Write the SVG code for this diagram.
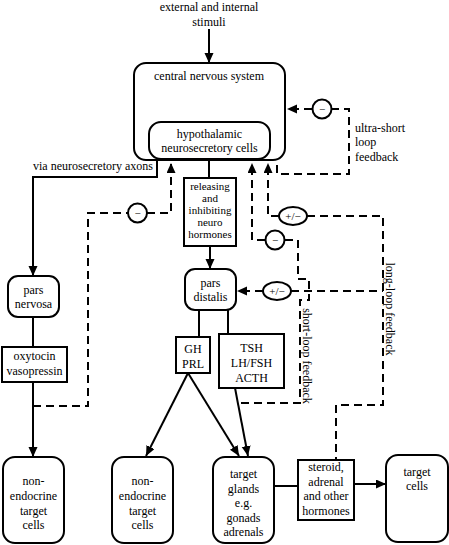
<svg xmlns="http://www.w3.org/2000/svg" width="449" height="545" viewBox="0 0 449 545">
<defs>
<marker id="ah" markerUnits="userSpaceOnUse" markerWidth="11" markerHeight="10" refX="10" refY="4.5" orient="auto">
<path d="M0,0 L10,4.5 L0,9 z" fill="#000"/>
</marker>
</defs>
<style>
text{font-family:'Liberation Serif','Times New Roman','DejaVu Serif',serif;font-size:12px;fill:#000;text-anchor:middle}
.l{text-anchor:start}
.box{fill:#fff;stroke:#000;stroke-width:2}
.c{fill:none;stroke:#000;stroke-width:2}
.d{fill:none;stroke:#000;stroke-width:2;stroke-dasharray:8,5}
.sign{fill:#fff;stroke:#000;stroke-width:2}
.s{font-size:11px}
.t{font-size:11px}
</style>
<rect width="449" height="545" fill="#fff"/>
<g id="connectors">
<line class="c" x1="209" y1="29" x2="209" y2="63" marker-end="url(#ah)"/>
<line class="c" x1="209" y1="87" x2="209" y2="122" marker-end="url(#ah)"/>
<path class="c" d="M157,159 V177 H33 V276" marker-end="url(#ah)"/>
<line class="c" x1="33" y1="317" x2="33" y2="347"/>
<line class="c" x1="33" y1="382" x2="33" y2="457" marker-end="url(#ah)"/>
<line class="c" x1="209" y1="159" x2="209" y2="178"/>
<line class="c" x1="210" y1="246" x2="210" y2="269" marker-end="url(#ah)"/>
<line class="c" x1="199" y1="310" x2="199" y2="337"/>
<line class="c" x1="228" y1="310" x2="228" y2="334"/>
<line class="c" x1="188" y1="373" x2="146" y2="456" marker-end="url(#ah)"/>
<line class="c" x1="188" y1="373" x2="239" y2="456" marker-end="url(#ah)"/>
<line class="c" x1="235" y1="388" x2="248" y2="456" marker-end="url(#ah)"/>
<line class="c" x1="274" y1="486" x2="298" y2="486"/>
<line class="c" x1="354" y1="484" x2="386" y2="484" marker-end="url(#ah)"/>
<path class="d" d="M331,109 H349 V174 H277 V162"/>
<line class="d" x1="312" y1="109" x2="287" y2="109" stroke-dasharray="5,4" marker-end="url(#ah)"/>
<path class="d" d="M33,406 H88 V213 H128"/>
<path class="d" d="M147,213 H171 V163" marker-end="url(#ah)"/>
<path class="d" d="M307,216 H383 V405 H336 V460"/>
<path class="d" d="M279,216 H268 V163" marker-end="url(#ah)"/>
<path class="d" d="M291,291 H383"/>
<line class="d" x1="263" y1="291" x2="237" y2="291" stroke-dasharray="5,4" marker-end="url(#ah)"/>
<path class="d" d="M241,403 H300 V300 H309 V279 H298 V240 H285"/>
<path class="d" d="M265,240 H252 V163" marker-end="url(#ah)"/>
</g>
<g id="signs">
<circle class="sign" cx="322" cy="109" r="9.5"/><text class="s" x="322" y="113" fill="#555">−</text>
<circle class="sign" cx="137.5" cy="213" r="9.5"/><text class="s" x="137.5" y="217">−</text>
<circle class="sign" cx="275" cy="240" r="9.5"/><text class="s" x="275" y="244">−</text>
<ellipse class="sign" cx="293" cy="216" rx="14" ry="9"/><text class="s" x="293" y="220">+/−</text>
<ellipse class="sign" cx="277" cy="291" rx="14" ry="9"/><text class="s" x="277" y="295">+/−</text>
</g>
<g id="stimuli"><text x="209" y="11">external and internal</text><text x="209" y="26">stimuli</text></g>
<g id="cns"><rect class="box" x="134" y="63" width="151" height="97" rx="12"/><text x="209" y="80">central nervous system</text></g>
<g id="hypothalamic"><rect class="box" x="149" y="122" width="121" height="37" rx="12"/><text x="209.5" y="138">hypothalamic</text><text x="209.5" y="152">neurosecretory cells</text></g>
<g id="labels">
<text class="l" x="355" y="132">ultra-short</text><text class="l" x="355" y="146">loop</text><text class="l" x="355" y="161">feedback</text>
<text class="l" x="33" y="170">via neurosecretory axons</text>
<text transform="translate(303,356) rotate(90)">short-loop feedback</text>
<text transform="translate(386,309) rotate(90)">long-loop feedback</text>
</g>
<g id="releasing"><rect class="box" x="184" y="178" width="52" height="68"/><text class="t" x="210" y="190">releasing</text><text class="t" x="210" y="202">and</text><text class="t" x="210" y="214">inhibiting</text><text class="t" x="210" y="226">neuro</text><text class="t" x="210" y="238">hormones</text></g>
<g id="pars-nervosa"><rect class="box" x="8" y="276" width="51" height="41" rx="10"/><text x="33.5" y="294">pars</text><text x="33.5" y="308">nervosa</text></g>
<g id="oxytocin"><rect class="box" x="2" y="347" width="65" height="35"/><text x="34.5" y="360">oxytocin</text><text x="34.5" y="375">vasopressin</text></g>
<g id="pars-distalis"><rect class="box" x="185" y="269" width="51" height="41" rx="10"/><text x="210.5" y="287">pars</text><text x="210.5" y="301">distalis</text></g>
<g id="gh"><rect class="box" x="176" y="337" width="34" height="36"/><text x="193" y="353">GH</text><text x="193" y="368">PRL</text></g>
<g id="tsh"><rect class="box" x="219" y="334" width="65" height="54"/><text x="251.5" y="352">TSH</text><text x="251.5" y="367">LH/FSH</text><text x="251.5" y="382">ACTH</text></g>
<g id="nonendo1"><rect class="box" x="3" y="457" width="61" height="86" rx="12"/><text x="33.5" y="485">non-</text><text x="33.5" y="500">endocrine</text><text x="33.5" y="515">target</text><text x="33.5" y="529">cells</text></g>
<g id="nonendo2"><rect class="box" x="112" y="457" width="61" height="86" rx="12"/><text x="142.5" y="485">non-</text><text x="142.5" y="500">endocrine</text><text x="142.5" y="515">target</text><text x="142.5" y="529">cells</text></g>
<g id="target-glands"><rect class="box" x="213" y="457" width="61" height="86" rx="12"/><text x="243.5" y="478">target</text><text x="243.5" y="493">glands</text><text x="243.5" y="507">e.g.</text><text x="243.5" y="522">gonads</text><text x="243.5" y="536">adrenals</text></g>
<g id="steroid"><rect class="box" x="298" y="460" width="56" height="60"/><text x="326" y="471">steroid,</text><text x="326" y="486">adrenal</text><text x="326" y="500">and other</text><text x="326" y="515">hormones</text></g>
<g id="target-cells"><rect class="box" x="386" y="455" width="62" height="87" rx="12"/><text x="417" y="476">target</text><text x="417" y="490">cells</text></g>
</svg>
